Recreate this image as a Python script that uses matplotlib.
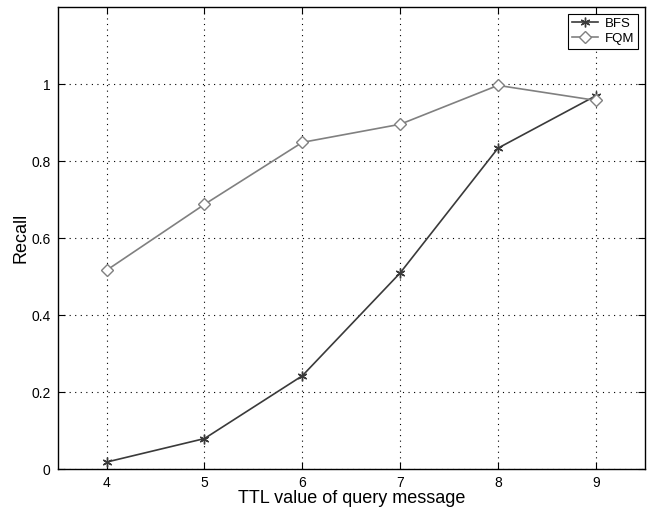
import matplotlib.pyplot as plt

plt.rcParams['font.family'] = ['Liberation Sans', 'DejaVu Sans']

ttl = [4, 5, 6, 7, 8, 9]
bfs = [0.019, 0.080, 0.243, 0.510, 0.834, 0.970]
fqm = [0.517, 0.688, 0.849, 0.896, 0.997, 0.958]

fig = plt.figure(figsize=(6.48, 5.13), dpi=100)
ax = fig.add_axes([0.089, 0.085, 0.906, 0.901])

ax.plot(ttl, bfs, color='#3a3a3a', lw=1.2, marker=(6, 2, 0), ms=7, mew=1.0, label='BFS')
ax.plot(ttl, fqm, color='#808080', lw=1.2, marker='D', ms=6, mfc='white', mew=1.0, label='FQM')

ax.set_xlim(3.5, 9.5)
ax.set_ylim(0, 1.2)
ax.set_xticks(ttl)
ax.set_yticks([0, 0.2, 0.4, 0.6, 0.8, 1.0])
ax.set_yticklabels(['0', '0.2', '0.4', '0.6', '0.8', '1'])
ax.tick_params(direction='in', top=True, right=True, labelsize=10, length=5, pad=5)
ax.grid(True, color='black', linestyle=(0, (1, 4)), linewidth=0.8)
for s in ax.spines.values():
    s.set_linewidth(1.0)

ax.set_xlabel('TTL value of query message', fontsize=13, labelpad=0)
ax.set_ylabel('Recall', fontsize=13, labelpad=1)

leg = ax.legend(loc='upper right', fontsize=9.5, fancybox=False, framealpha=1,
                edgecolor='black', borderpad=0.3, handlelength=2.0, labelspacing=0.2,
                borderaxespad=0.5, handletextpad=0.5)
leg.get_frame().set_linewidth(0.8)

fig.savefig('out.png', dpi=100)
